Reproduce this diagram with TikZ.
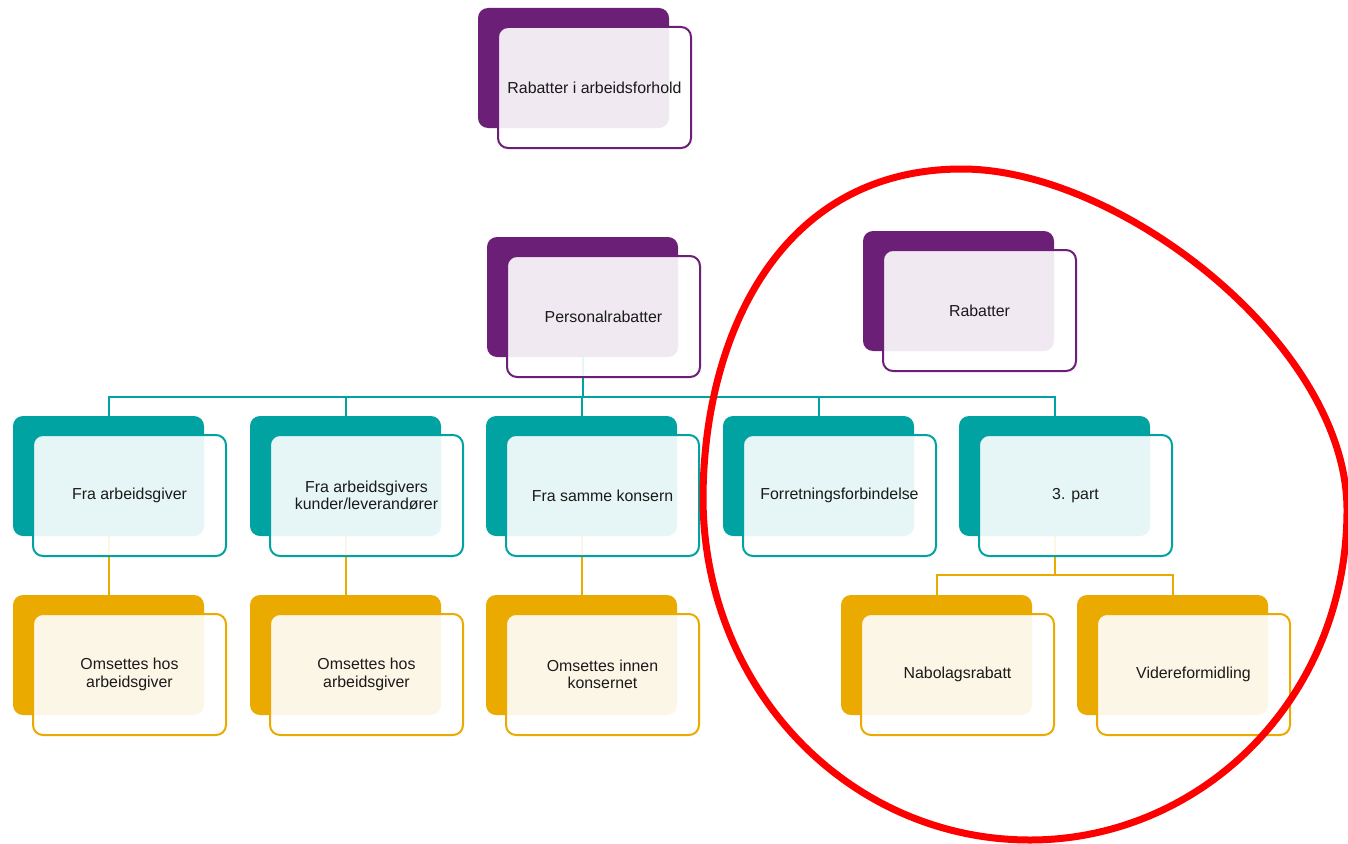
\documentclass[tikz,border=0pt]{standalone}
\usepackage{fontspec}
\setmainfont{Liberation Sans}
\usetikzlibrary{backgrounds}
\definecolor{cpur}{RGB}{108,31,119}
\definecolor{cteal}{RGB}{0,163,161}
\definecolor{cgold}{RGB}{234,170,0}
\definecolor{ctext}{RGB}{26,26,26}
\tikzset{
  backbox/.style={draw=none, fill=#1, rounded corners=10pt, minimum width=191pt,
    minimum height=120pt, anchor=north west, inner sep=0pt, outer sep=0pt},
  frontbox/.style={draw=#1, line width=2pt, fill=white, fill opacity=0.9,
    draw opacity=1, text opacity=1, rounded corners=10pt, minimum width=193pt,
    minimum height=121pt, anchor=north west, inner sep=0pt, outer sep=0pt,
    align=center, text=ctext, font=\fontsize{15.9}{17.5}\selectfont},
  link/.style={draw=#1, line width=2pt},
  markring/.style={draw=red, line width=7pt},
}
\newcommand{\mycard}[5]{%
  \node[backbox=#4] (#1b) at (#2,#3) {};
  \node[frontbox=#4] (#1) at (#2+20,#3+19) {#5};
}
\begin{document}
\begin{tikzpicture}[x=1pt,y=-1pt]
\useasboundingbox (0,0) rectangle (1348,843);

\mycard{top}{478}{8}{cpur}{Rabatter i arbeidsforhold}
\mycard{per}{487}{237}{cpur}{Personalrabatter}
\mycard{rab}{863}{231}{cpur}{Rabatter}

\mycard{ta}{13}{416}{cteal}{Fra arbeidsgiver}
\mycard{tb}{250}{416}{cteal}{Fra arbeidsgivers\\kunder/leverandører}
\mycard{tc}{486}{416}{cteal}{Fra samme konsern}
\mycard{td}{723}{416}{cteal}{Forretningsforbindelse}
\mycard{te}{959}{416}{cteal}{3. part}

\mycard{ga}{13}{595}{cgold}{Omsettes hos\\arbeidsgiver}
\mycard{gb}{250}{595}{cgold}{Omsettes hos\\arbeidsgiver}
\mycard{gc}{486}{595}{cgold}{Omsettes innen\\konsernet}
\mycard{gd}{841}{595}{cgold}{Nabolagsrabatt}
\mycard{ge}{1077}{595}{cgold}{Videreformidling}

\begin{pgfonlayer}{background}
  \fill[white] (0,0) rectangle (1348,843);
  \coordinate (busy) at (0,397);
  \coordinate (gbusy) at (0,575);
  \draw[link=cteal] (perb.south) -- (perb.south |- busy);
  \draw[link=cteal] (tab.north) -- (tab.north |- busy) -- (teb.north |- busy) -- (teb.north);
  \foreach \n in {tbb,tcb,tdb} \draw[link=cteal] (\n.north |- busy) -- (\n.north);
  \draw[link=cgold] (tab.south) -- (gab.north);
  \draw[link=cgold] (tbb.south) -- (gbb.north);
  \draw[link=cgold] (tcb.south) -- (gcb.north);
  \draw[link=cgold] (teb.south) -- (teb.south |- gbusy);
  \draw[link=cgold] (gdb.north) -- (gdb.north |- gbusy) -- (geb.north |- gbusy) -- (geb.north);
\end{pgfonlayer}

\draw[markring] (962,169) .. controls (1120,169) and (1347,345) .. (1347,510)
  .. controls (1347,700) and (1200,840) .. (1030,840)
  .. controls (850,840) and (703,690) .. (703,497)
  .. controls (704,335) and (780,169) .. (962,169) -- cycle;
\end{tikzpicture}
\end{document}
